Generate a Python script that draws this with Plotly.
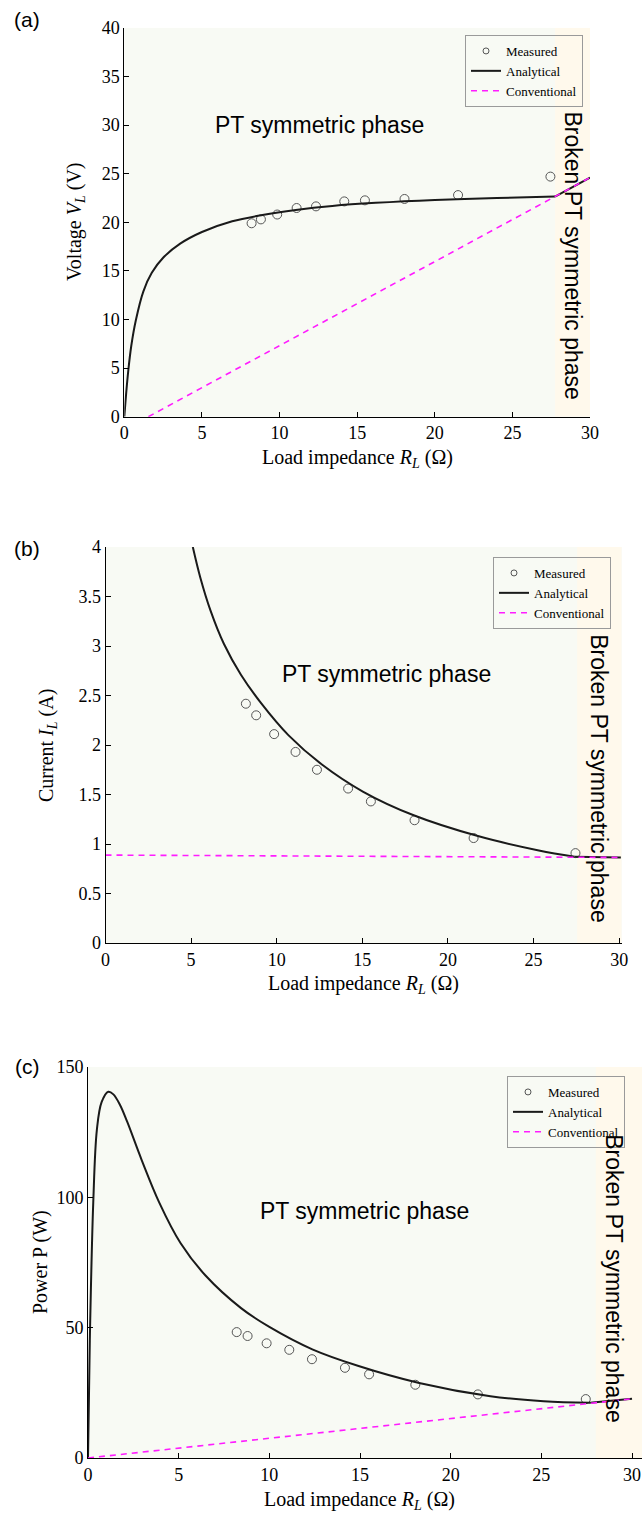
import plotly.graph_objects as go

# ---------------- data ----------------
# shared measurement load impedances (ohm)
R_meas = [8.2, 8.8, 9.85, 11.1, 12.35, 14.17, 15.5, 18.05, 21.5, 27.45]

# (a) voltage
V_meas = [19.9, 20.3, 20.8, 21.47, 21.64, 22.15, 22.26, 22.4, 22.8, 24.7]
R_ana_a = [0, 0.05, 0.12, 0.26, 0.45, 0.74, 1.23, 1.77, 2.53, 3.6, 5.0, 6.95,
           8.9, 11.05, 13.4, 16.2, 20.0, 24.0, 27.75]
V_ana_a = [0, 1.0, 2.4, 4.8, 7.3, 9.9, 12.9, 14.8, 16.4, 17.8, 19.0, 20.1,
           20.75, 21.27, 21.68, 22.0, 22.3, 22.5, 22.65]
R_brk_a = [27.75, 30.0]
V_brk_a = [22.65, 24.6]
R_conv_a = [1.55, 30.0]
V_conv_a = [0.0, 24.6]

# (b) current
I_meas = [2.417, 2.30, 2.11, 1.93, 1.75, 1.56, 1.43, 1.24, 1.06, 0.908]
R_ana_b = [5.1, 5.54, 6.13, 6.92, 7.91, 9.10, 10.68, 12.66, 15.03, 18.0,
           21.75, 25.31, 27.4]
I_ana_b = [4.0, 3.69, 3.36, 3.02, 2.71, 2.42, 2.10, 1.80, 1.53, 1.29,
           1.08, 0.935, 0.871]
R_brk_b = [27.4, 30.1]
I_brk_b = [0.871, 0.864]
R_conv_b = [0.0, 30.1]
I_conv_b = [0.888, 0.864]

# (c) power
P_meas = [48.3, 46.8, 44.0, 41.5, 37.9, 34.6, 32.1, 28.1, 24.4, 22.6]
R_ana_c = [0, 0.1, 0.29, 0.49, 0.75, 1.12, 1.4, 1.76, 2.16, 2.95, 3.93, 5.1, 6.48,
           8.44, 10.0, 12.37, 14.92, 18.26, 22.19, 25.13, 27.69]
P_ana_c = [0, 45, 98, 126, 136.5, 140.5, 139.5, 135.5, 129.0, 114.5, 98.0, 82.5, 70.0,
           57.5, 50.3, 41.7, 35.3, 28.8, 23.7, 21.8, 21.15]
R_brk_c = [27.69, 30.0]
P_brk_c = [21.15, 22.7]
R_conv_c = [0.0, 30.0]
P_conv_c = [0.0, 22.7]

# phase boundaries (start of broken PT phase, end of axis)
broken_a = [27.75, 30.0]
broken_b = [27.55, 30.15]
broken_c = [28.0, 30.55]

x_ticks = [0, 5, 10, 15, 20, 25, 30]
y_ticks_a = [0, 5, 10, 15, 20, 25, 30, 35, 40]
y_ticks_b = [0, 0.5, 1, 1.5, 2, 2.5, 3, 3.5, 4]
y_ticks_c = [0, 50, 100, 150]
y_tick_text_b = ['0', '0.5', '1', '1.5', '2', '2.5', '3', '3.5', '4']

# ---------------- styling ----------------
W, H = 642, 1517
PT_BG = '#f8faf4'
BRK_BG = '#fff9ec'
SERIF = 'Liberation Serif, Times New Roman, serif'
SANS = 'Liberation Sans, Arial, sans-serif'
MAG = '#ff1cff'
MEAS_COL = '#555555'


def px_x(p):
    return p / W


def px_y(p):
    return 1 - p / H


panels = [
    dict(xa='x', ya='y', xdom=[124.3, 590.0], ydom=[27.9, 416.7],
         xr=[0, 30.0], yr=[0, 40]),
    dict(xa='x2', ya='y2', xdom=[105.5, 621.7], ydom=[547.0, 943.0],
         xr=[0, 30.15], yr=[0, 4]),
    dict(xa='x3', ya='y3', xdom=[88.0, 642.0], ydom=[1067.0, 1458.0],
         xr=[0, 30.55], yr=[0, 150]),
]

fig = go.Figure()

series = [
    (R_meas, V_meas, R_ana_a, V_ana_a, R_brk_a, V_brk_a, R_conv_a, V_conv_a),
    (R_meas, I_meas, R_ana_b, I_ana_b, R_brk_b, I_brk_b, R_conv_b, I_conv_b),
    (R_meas, P_meas, R_ana_c, P_ana_c, R_brk_c, P_brk_c, R_conv_c, P_conv_c),
]
legends = ['legend', 'legend2', 'legend3']

for k, (p, s) in enumerate(zip(panels, series)):
    rm, ym, ra, ya, rb, yb, rc, yc = s
    common = dict(xaxis=p['xa'], yaxis=p['ya'], legend=legends[k])
    fig.add_trace(go.Scatter(x=rm, y=ym, mode='markers', showlegend=False,
                             marker=dict(symbol='circle-open', size=9,
                                         color=MEAS_COL, line=dict(width=1, color=MEAS_COL)),
                             **common))
    fig.add_trace(go.Scatter(x=ra, y=ya, mode='lines', showlegend=False,
                             line=dict(color='#1a1a1a', width=2, shape='spline', smoothing=1.0),
                             **common))
    fig.add_trace(go.Scatter(x=rb, y=yb, mode='lines', showlegend=False,
                             line=dict(color='#1a1a1a', width=2), **common))
    fig.add_trace(go.Scatter(x=rc, y=yc, mode='lines', showlegend=False,
                             line=dict(color=MAG, width=1.6, dash='6px,5px'), **common))
    # legend entries
    fig.add_trace(go.Scatter(x=[None], y=[None], mode='markers', name='Measured',
                             marker=dict(symbol='circle-open', size=6, color=MEAS_COL,
                                         line=dict(width=1, color=MEAS_COL)), **common))
    fig.add_trace(go.Scatter(x=[None], y=[None], mode='lines', name='Analytical',
                             line=dict(color='#1a1a1a', width=2), **common))
    fig.add_trace(go.Scatter(x=[None], y=[None], mode='lines', name='Conventional',
                             line=dict(color=MAG, width=1.6, dash='6px,5px'), **common))

layout = dict(width=W, height=H, margin=dict(l=0, r=0, t=0, b=0, autoexpand=False),
              paper_bgcolor='white', plot_bgcolor=PT_BG, showlegend=True)

ytick_sets = [(y_ticks_a, None), (y_ticks_b, y_tick_text_b), (y_ticks_c, None)]
for k, p in enumerate(panels):
    sfx = '' if k == 0 else str(k + 1)
    layout['xaxis' + sfx] = dict(
        domain=[px_x(p['xdom'][0]), px_x(p['xdom'][1])], range=p['xr'],
        anchor='y' + sfx, showline=True, linecolor='black', linewidth=1,
        ticks='inside', ticklen=5, tickcolor='black', tickwidth=1,
        tickvals=x_ticks, showgrid=False, zeroline=False, automargin=False,
        tickfont=dict(family=SERIF, size=18, color='black'), fixedrange=True)
    tv, tt = ytick_sets[k]
    yax = dict(
        domain=[px_y(p['ydom'][1]), px_y(p['ydom'][0])], range=p['yr'],
        anchor='x' + sfx, showline=True, linecolor='black', linewidth=1,
        ticks='inside', ticklen=5, tickcolor='black', tickwidth=1,
        tickvals=tv, showgrid=False, zeroline=False, automargin=False,
        tickfont=dict(family=SERIF, size=18, color='black'), fixedrange=True)
    if tt is not None:
        yax['ticktext'] = tt
    layout['yaxis' + sfx] = yax

legend_pos = [(583, 35), (611, 557), (625, 1076)]
for k, (lx, ly) in enumerate(legend_pos):
    layout[legends[k]] = dict(
        x=px_x(lx), y=px_y(ly), xanchor='right', yanchor='top',
        bgcolor='rgba(0,0,0,0)', bordercolor='#9a9a9a', borderwidth=1,
        font=dict(family=SERIF, size=13, color='black'),
        tracegroupgap=0, itemwidth=30)

fig.update_layout(**layout)

# broken-phase shading
brks = [broken_a, broken_b, broken_c]
for k, p in enumerate(panels):
    fig.add_shape(type='rect', xref=p['xa'], yref=p['ya'],
                  x0=brks[k][0], x1=brks[k][1], y0=p['yr'][0], y1=p['yr'][1],
                  fillcolor=BRK_BG, line=dict(width=0), layer='below')

# texts in the plots
pt_pos = [(12.6, 30.0), (16.43, 2.72), (15.26, 94.9)]
brk_pos = [(28.9, 16.6), (28.85, 1.66), (29.0, 69.0)]
for k, p in enumerate(panels):
    fig.add_annotation(x=pt_pos[k][0], y=pt_pos[k][1], xref=p['xa'], yref=p['ya'],
                       text='PT symmetric phase', showarrow=False,
                       xanchor='center', yanchor='middle',
                       font=dict(family=SANS, size=23, color='black'))
    fig.add_annotation(x=brk_pos[k][0], y=brk_pos[k][1], xref=p['xa'], yref=p['ya'],
                       text='Broken PT symmetric phase', showarrow=False, textangle=90,
                       xanchor='center', yanchor='middle',
                       font=dict(family=SANS, size=23, color='black'))

# panel labels
for lbl, (x, y) in zip(['(a)', '(b)', '(c)'], [(27, 20), (27, 548), (27, 1066)]):
    fig.add_annotation(x=px_x(x), y=px_y(y), xref='paper', yref='paper', text=lbl,
                       showarrow=False, xanchor='center', yanchor='middle',
                       font=dict(family=SANS, size=21, color='black'))

# axis titles
xt = 'Load impedance <i>R</i><sub><i>L</i></sub> (Ω)'
for (x, y) in [(357, 458), (363, 985), (360, 1500)]:
    fig.add_annotation(x=px_x(x), y=px_y(y), xref='paper', yref='paper', text=xt,
                       showarrow=False, xanchor='center', yanchor='middle',
                       font=dict(family=SERIF, size=20, color='black'))
ytitles = ['Voltage <i>V</i><sub><i>L</i></sub> (V)',
           'Current <i>I</i><sub><i>L</i></sub> (A)',
           'Power P (W)']
for t, (x, y) in zip(ytitles, [(75, 222), (48, 745), (40, 1262)]):
    fig.add_annotation(x=px_x(x), y=px_y(y), xref='paper', yref='paper', text=t,
                       showarrow=False, textangle=-90, xanchor='center', yanchor='middle',
                       font=dict(family=SERIF, size=20, color='black'))

fig.write_html('out.html', config={'displayModeBar': False})
